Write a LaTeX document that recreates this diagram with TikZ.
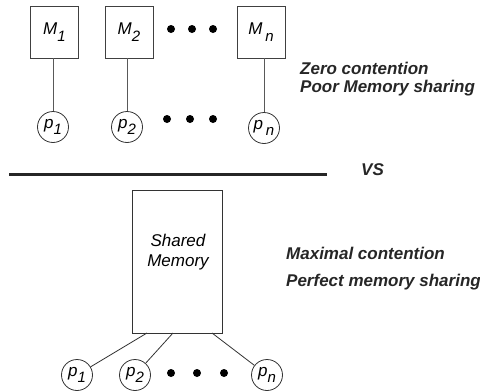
\documentclass[tikz,border=0pt]{standalone}
\usepackage{fontspec}
\setmainfont{Liberation Sans}
\newcommand{\sbs}[1]{\raisebox{-0.4em}{\fontsize{15}{15}\selectfont #1}}
\tikzset{
  membox/.style={draw=black!75, line width=0.8pt, minimum width=48pt, minimum height=52pt, inner sep=0pt, font=\fontsize{17}{17}\selectfont\itshape},
  proc/.style={draw=black!80, line width=0.8pt, circle, minimum size=31pt, inner sep=0pt, font=\fontsize{17}{17}\selectfont\itshape},
  link/.style={draw=black!65, line width=0.8pt},
  dotc/.style={fill=black, circle, minimum size=8pt, inner sep=0pt},
  label/.style={anchor=base west, inner sep=0pt, font=\fontsize{17}{17}\selectfont\bfseries\itshape, text=black!85}
}
\begin{document}
\begin{tikzpicture}[x=1pt,y=-1pt]
\useasboundingbox (0,0) rectangle (480,391);
% top: distributed memories
\node[membox] (m1) at (54.5,32) {M\sbs{1}};
\node[membox] (m2) at (129,32) {M\sbs{2}};
\node[membox] (mn) at (261,32) {M\,\sbs{n}};
\node[proc] (p1) at (53,127) {p\sbs{1}};
\node[proc] (p2) at (127,127) {p\sbs{2}};
\node[proc] (pn) at (264,128) {p\,\sbs{n}};
\draw[link] (p1) -- (p1 |- m1.south);
\draw[link] (p2) -- (p2 |- m2.south);
\draw[link] (pn) -- (pn |- mn.south);
\node[dotc] (d1) at (171,29) {};
\node[dotc] (d2) at (192,29) {};
\node[dotc] (d3) at (213,29) {};
\node[dotc] (d4) at (167,119) {};
\node[dotc] (d5) at (190,119) {};
\node[dotc] (d6) at (213,119) {};
\node[label] (t1) at (300,74) {Zero contention};
\node[label] (t2) at (300,92) {Poor Memory sharing};
% separator
\coordinate (sa) at (9,174);
\coordinate (sb) at (327,174);
\draw[line width=3pt, black!85] (sa) -- (sb);
\node[label] (vs) at (361,175) {VS};
% bottom: shared memory
\node[draw=black!80, line width=0.8pt, minimum width=90pt, minimum height=143pt, inner sep=0pt] (sm) at (177,261.5) {};
\node[font=\fontsize{17}{17}\selectfont\itshape, anchor=base, inner sep=0pt] (st1) at (178,246) {Shared};
\node[font=\fontsize{17}{17}\selectfont\itshape, anchor=base, inner sep=0pt] (st2) at (178,266) {Memory};
\node[proc] (q1) at (77,375) {p\sbs{1}};
\node[proc] (q2) at (135,375) {p\sbs{2}};
\node[proc] (qn) at (267,375) {p\sbs{n}};
\coordinate (s1) at (147,333);
\coordinate (s2) at (173,333);
\coordinate (s3) at (212,333);
\draw[black!80, line width=0.8pt] (s1) -- (q1);
\draw[black!80, line width=0.8pt] (s2) -- (q2);
\draw[black!80, line width=0.8pt] (s3) -- (qn);
\node[dotc] (e1) at (171,373) {};
\node[dotc] (e2) at (197,373) {};
\node[dotc] (e3) at (224,373) {};
\node[label] (t3) at (286,259) {Maximal contention};
\node[label] (t4) at (286,286) {Perfect memory sharing};
\end{tikzpicture}
\end{document}
